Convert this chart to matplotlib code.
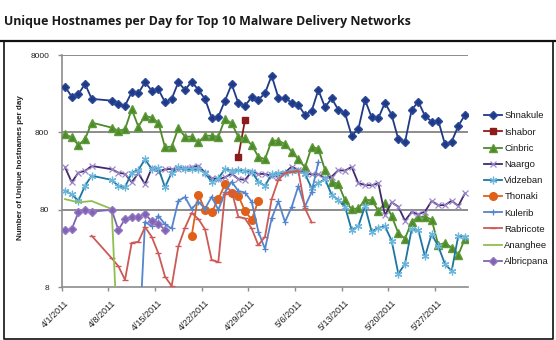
import matplotlib
matplotlib.use("Agg")
import matplotlib.pyplot as plt
from matplotlib import transforms
from matplotlib.lines import Line2D

# Day offsets counted from 4/1/2011 (no data on days 5 and 6)
days_main = list(range(0, 5)) + list(range(7, 61))

shnakule = [3126, 2320, 2490, 3390, 2170, 2060, 1867, 1775, 2645, 2565, 3560, 2775,
            2890, 1965, 2170, 3560, 2830, 3625, 2830, 2170, 1242, 1280, 2060, 3360,
            1905, 1775, 2280, 2105, 2565, 4335, 2255, 2213, 1940, 1813, 1345, 1517,
            2830, 1693, 2213, 1563, 1416, 727, 880, 2105, 1257, 1219, 1940, 1345,
            653, 597, 1563, 2000, 1307, 1104, 1135, 563, 608, 970, 1345]

cinbric = [758, 693, 551, 653, 1072, 923, 843, 880, 1596, 951, 1307, 1242,
           1072, 515, 525, 906, 706, 706, 595, 727, 724, 705, 1200, 1050,
           700, 673, 551, 389, 360, 627, 627, 568, 452, 360, 283, 524,
           492, 262, 185, 173, 107, 81, 84, 107, 107, 78, 97, 67,
           40, 34, 56, 65, 65, 60, 28, 30, 26, 21, 34]

naargo = [284, 182, 242, 255, 295, 268, 242, 233, 182, 238, 171, 276,
          249, 268, 270, 270, 276, 284, 298, 242, 205, 200, 211, 235,
          200, 195, 249, 233, 233, 219, 215, 242, 289, 262, 238, 230,
          230, 205, 215, 260, 257, 287, 177, 168, 166, 177, 68, 100,
          88, 58, 75, 70, 76, 104, 92, 92, 105, 90, 131]

vidzeban = [142, 127, 105, 164, 221, 195, 163, 157, 242, 262, 360, 268,
            276, 157, 242, 284, 268, 268, 268, 238, 185, 205, 270, 257,
            262, 257, 249, 185, 163, 233, 238, 238, 257, 257, 233, 152,
            177, 200, 125, 107, 88, 44, 49, 89, 42, 47, 49, 32,
            12, 16, 45, 44, 20, 39, 27, 16, 13, 37, 36]

ishabor_days = [26, 27]
ishabor = [390, 1160]

thonaki_days = list(range(19, 30))
thonaki = [37, 126, 80, 74, 111, 171, 133, 122, 77, 60, 105]

kulerib_days = list(range(11, 39))
kulerib = [1, 56, 49, 67, 52, 46, 105, 117, 82, 102, 83, 118, 80, 135,
           185, 140, 134, 102, 42, 25, 62, 103, 56, 87, 162, 89, 136, 330]

rabricote_days = [4] + list(range(7, 38))
rabricote = [37, 19, 15, 10, 30, 31, 48, 36, 22, 11, 8.3, 27, 47, 73, 61, 45,
             18, 17, 130, 140, 65, 62, 46, 28, 36, 110, 195, 238, 249, 257, 84, 55]

ananghee_days = [0, 1, 2, 3, 4, 7, 8]
ananghee = [110, 105, 100, 102, 104, 82, 1]

albricpana_days = [0, 1, 2, 3, 4, 7, 8, 9, 10, 11, 12, 13, 14, 15]
albricpana = [44, 45, 74, 80, 76, 80, 44, 61, 65, 65, 71, 57, 53, 44]

tick_days = [-0.5 + 7 * k for k in range(9)]
tick_labels = ["4/1/2011", "4/8/2011", "4/15/2011", "4/22/2011", "4/29/2011",
               "5/6/2011", "5/13/2011", "5/20/2011", "5/27/2011"]
y_ticks = [8, 80, 800, 8000]
y_labels = ["8", "80", "800", "8000"]

series = [
    ("Shnakule", days_main, shnakule, dict(color="#1f3a85", marker="D", ms=4.4, mfc="#1f3a85", mec="#2d4a9a")),
    ("Ishabor", ishabor_days, ishabor, dict(color="#8c1c1c", marker="s", ms=4.8, mfc="#8c1c1c", mec="#8c1c1c")),
    ("Cinbric", days_main, cinbric, dict(color="#4e8a2b", marker="^", ms=6, mfc="#4e8a2b", mec="#5d9a38")),
    ("Naargo", days_main, naargo, dict(color="#42296e", marker="x", ms=4.5, mec="#9c88c8", mew=0.9)),
    ("Vidzeban", days_main, vidzeban, dict(color="#1b76a3", marker=(6, 2, 0), ms=5.5, mec="#6cb6dc", mew=0.9)),
    ("Thonaki", thonaki_days, thonaki, dict(color="#e0601a", marker="o", ms=5.5, mfc="#e0601a", mec="#e0601a")),
    ("Kulerib", kulerib_days, kulerib, dict(color="#5585cc", marker="+", ms=5, mec="#5585cc", mew=0.9)),
    ("Rabricote", rabricote_days, rabricote, dict(color="#cc5a55", marker="_", ms=4, mec="#cc5a55", mew=1.0)),
    ("Ananghee", ananghee_days, ananghee, dict(color="#8fbf4f", marker="None")),
    ("Albricpana", albricpana_days, albricpana, dict(color="#8064b2", marker="D", ms=4.2, mfc="#8064b2", mec="#9478c4")),
]

W, H = 556, 340
fig = plt.figure(figsize=(W / 100, H / 100), dpi=100)

x0, x1, ytop, ybot = 61.7, 468.3, 55.0, 287.3
ax = fig.add_axes([x0 / W, 1 - ybot / H, (x1 - x0) / W, (ybot - ytop) / H])

ax.set_yscale("log")
ax.set_ylim(8, 8000)
ax.set_xlim(-0.5, 60.5)

for y in [80, 800, 8000]:
    ax.axhline(y, color="#8c8c8c", lw=1.4, zorder=1)

for i, (name, d, v, st) in enumerate(series):
    ax.plot(d, v, label=name, lw=1.3, zorder=3 + i, **st)

for side in ["top", "right"]:
    ax.spines[side].set_visible(False)
for side in ["left", "bottom"]:
    ax.spines[side].set_color("#8c8c8c")
    ax.spines[side].set_linewidth(1.2)

label_font = ["Liberation Sans", "DejaVu Sans"]
ax.set_yticks(y_ticks)
ax.set_yticklabels(y_labels, fontsize=6, family=label_font, color="#222222")
ax.yaxis.set_minor_locator(matplotlib.ticker.NullLocator())
ax.tick_params(axis="y", length=3, width=1, color="#8c8c8c", pad=6)

ax.set_xticks(tick_days)
ax.set_xticklabels(tick_labels, fontsize=6.5, family=label_font, color="#222222",
                   rotation=45, ha="right", va="center", rotation_mode="anchor")
ax.tick_params(axis="x", length=3, width=1, color="#8c8c8c", pad=0)
shift = transforms.ScaledTranslation(6 / 100, -10 / 100, fig.dpi_scale_trans)
for lab in ax.get_xticklabels():
    lab.set_transform(lab.get_transform() + shift)

fig.text(20.5 / W, 1 - 168 / H, "Number of Unique hostnames per day", rotation=90,
         ha="center", va="center", fontsize=5.8, fontweight="bold",
         family=["Liberation Sans Narrow", "Liberation Sans"], color="#222222")

fig.text(4 / W, 1 - 24.5 / H, "Unique Hostnames per Day for Top 10 Malware Delivery Networks",
         ha="left", va="baseline", fontsize=8.9, fontweight="bold",
         family=["Open Sans", "DejaVu Sans"], color="#1a1a1a")

# title rule and surrounding frame
fig.add_artist(Line2D([0, 1], [1 - 40.8 / H] * 2, transform=fig.transFigure, color="#111111", lw=1.6))
fig.add_artist(Line2D([3.5 / W, 3.5 / W, 552.5 / W, 552.5 / W],
                      [1 - 40.8 / H, 1 - 338.8 / H, 1 - 338.8 / H, 1 - 40.8 / H],
                      transform=fig.transFigure, color="#111111", lw=1.2))

leg = ax.legend(loc="upper left", bbox_to_anchor=(484 / W, 1 - 111.5 / H),
                bbox_transform=fig.transFigure, frameon=False,
                prop={"family": ["Liberation Sans Narrow", "Liberation Sans"], "size": 6.8},
                handlelength=1.9, handletextpad=0.25, labelspacing=0.76, borderpad=0,
                borderaxespad=0)
for t in leg.get_texts():
    t.set_color("#1a1a1a")

fig.savefig("out.png", dpi=100)
